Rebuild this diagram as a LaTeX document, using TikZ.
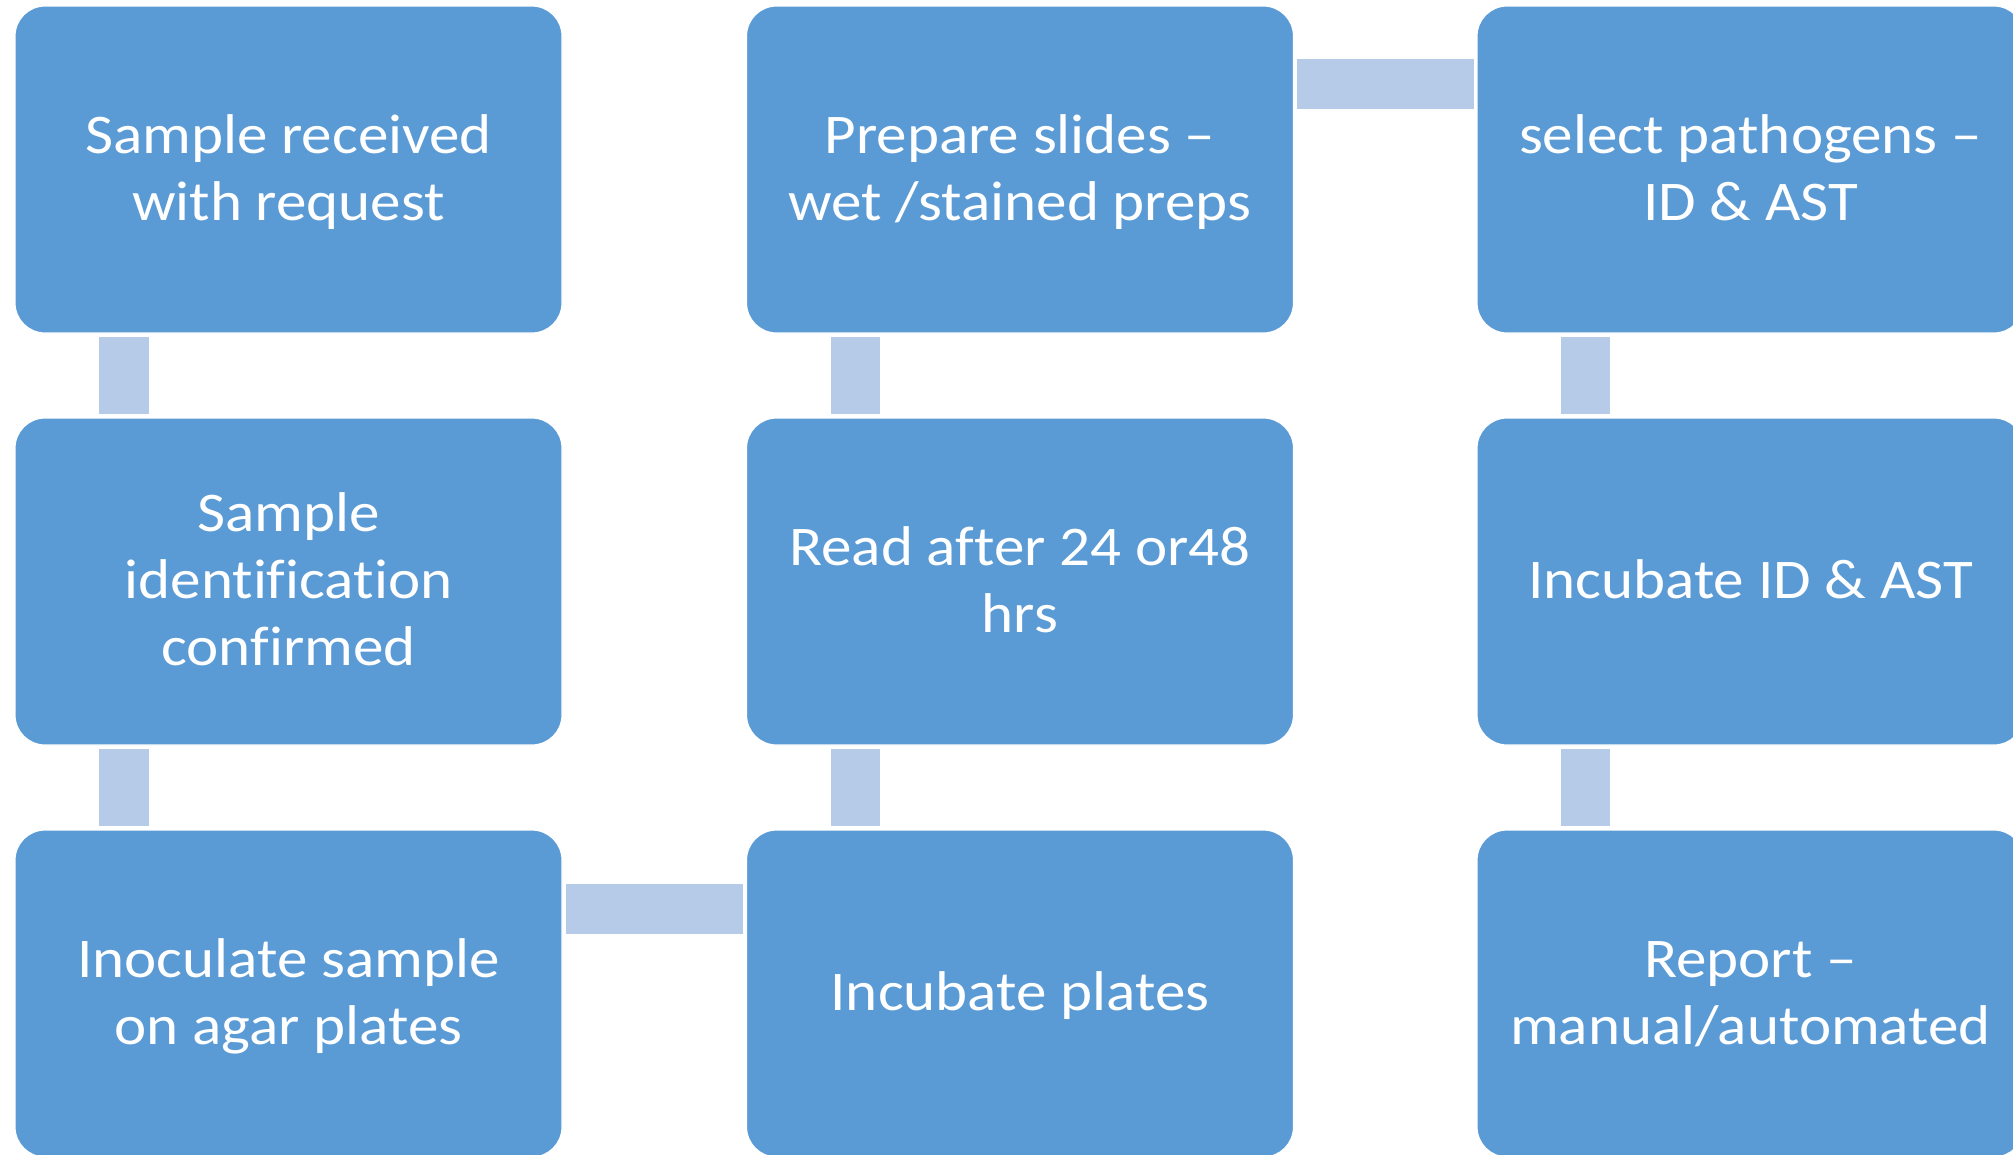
\documentclass[tikz,border=0pt]{standalone}
\usepackage{fontspec}
\setmainfont{Carlito}[FakeStretch=1.09,Ligatures={NoCommon}]
\usetikzlibrary{calc}
\definecolor{boxblue}{RGB}{91,155,213}
\definecolor{connblue}{RGB}{181,203,231}
\newcommand{\tstrut}{\rule{0pt}{48pt}}
\newcommand{\bstrut}{\rule[-14pt]{0pt}{14pt}}
\tikzset{
  stepbox/.style={rectangle, rounded corners=30pt, fill=boxblue, draw=white, line width=1.2pt,
    minimum width=547pt, minimum height=327pt, inner sep=0pt, text=white, align=center,
    font=\fontsize{56}{67}\selectfont},
  conn/.style={fill=connblue, draw=none}
}
\begin{document}
\begin{tikzpicture}[x=1pt,y=-1pt]
\clip (0,0) rectangle (2013,1154);
\fill[white] (0,0) rectangle (2013,1154);
% column 1
\node[stepbox] (a) at (288.5,169.5) {\tstrut Sample received\\with request\bstrut};
\node[stepbox] (b) at (288.5,581.5) {\tstrut Sample\\identification\\confirmed\bstrut};
\node[stepbox] (c) at (288.5,993.5) {\tstrut Inoculate sample\\on agar plates\bstrut};
% column 2
\node[stepbox] (d) at (1020,993.5) {\tstrut Incubate plates\bstrut};
\node[stepbox] (e) at (1020,581.5) {\tstrut Read after 24 or48\\hrs\bstrut};
\node[stepbox] (f) at (1020,169.5) {\tstrut Prepare slides –\\wet /stained preps\bstrut};
% column 3
\node[stepbox] (g) at (1750.5,169.5) {\tstrut select pathogens –\\ID \& AST\bstrut};
\node[stepbox] (h) at (1750.5,581.5) {\tstrut Incubate ID \& AST\bstrut};
\node[stepbox] (i) at (1750.5,993.5) {\tstrut Report –\\manual/automated\bstrut};
% connectors
\fill[conn] ($(a.south west)+(85,3)$) rectangle ($(b.north west)+(135,-3)$);
\fill[conn] ($(b.south west)+(85,3)$) rectangle ($(c.north west)+(135,-3)$);
\fill[conn] ($(c.north east)+(3,55)$) rectangle ($(d.north west)+(-3,105)$);
\fill[conn] ($(e.south west)+(85,3)$) rectangle ($(d.north west)+(134,-3)$);
\fill[conn] ($(f.south west)+(85,3)$) rectangle ($(e.north west)+(134,-3)$);
\fill[conn] ($(f.north east)+(3,54)$) rectangle ($(g.north west)+(-2,104)$);
\fill[conn] ($(g.south west)+(85,3)$) rectangle ($(h.north west)+(134,-3)$);
\fill[conn] ($(h.south west)+(85,3)$) rectangle ($(i.north west)+(134,-3)$);
\end{tikzpicture}
\end{document}
